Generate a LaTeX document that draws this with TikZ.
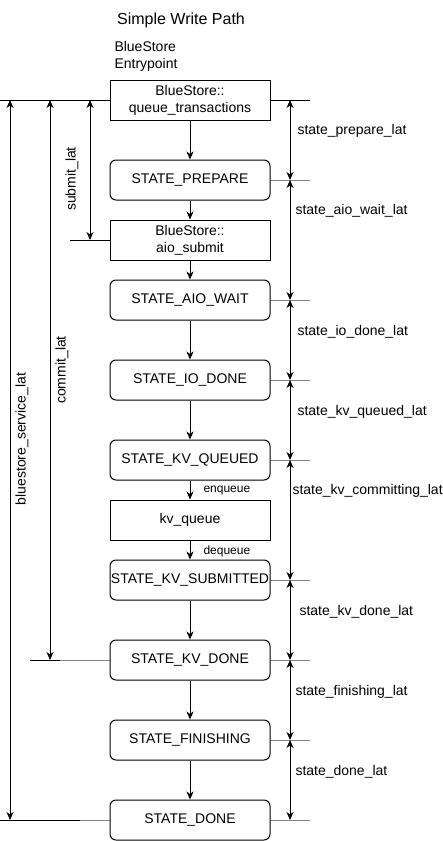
\documentclass[tikz,border=0pt]{standalone}
\usepackage{fontspec}
\setmainfont{Liberation Sans}
\usetikzlibrary{arrows.meta}
\def\boxw{160pt}
\def\boxh{40pt}
\def\rx{290}
\def\rend{310}

\begin{document}
\begin{tikzpicture}[
    x=1pt,y=-1pt,line width=1pt,
    font=\fontsize{14}{17}\selectfont,
    >={Stealth[length=8pt,width=7pt,inset=2.5pt]},
    plainbox/.style={draw,minimum width=\boxw,minimum height=\boxh,inner sep=0pt,align=center},
    statebox/.style={plainbox,rounded corners=6pt},
    faint/.style={black!50},
    lbl/.style={anchor=west,inner sep=0pt},
    small/.style={lbl,font=\fontsize{12}{14}\selectfont}
  ]
  \useasboundingbox (0,0) rectangle (443,841);

  \node[font=\fontsize{16}{19}\selectfont] (title) at (181,20) {Simple Write Path};
  \node[lbl,align=left] (entry) at (114,56) {BlueStore\\Entrypoint};

  \node[plainbox] (qt) at (190,100) {BlueStore::\\queue\_transactions};
  \node[statebox] (prep) at (190,180) {STATE\_PREPARE};
  \node[plainbox] (sub) at (190,240) {BlueStore::\\aio\_submit};
  \node[statebox] (aio) at (190,300) {STATE\_AIO\_WAIT};
  \node[statebox] (io) at (190,380) {STATE\_IO\_DONE};
  \node[statebox] (kvq) at (190,460) {STATE\_KV\_QUEUED};
  \node[plainbox] (queue) at (190,520) {kv\_queue};
  \node[statebox] (kvs) at (190,580) {STATE\_KV\_SUBMITTED};
  \node[statebox] (kvd) at (190,660) {STATE\_KV\_DONE};
  \node[statebox] (fin) at (190,740) {STATE\_FINISHING};
  \node[statebox] (done) at (190,820) {STATE\_DONE};

  \foreach \a/\b in {qt/prep,prep/sub,sub/aio,aio/io,io/kvq,kvq/queue,queue/kvs,kvs/kvd,kvd/fin,fin/done}
    \draw[->] (\a) -- (\b);
  \node[small] (enq) at (203,491) {enqueue};
  \node[small] (deq) at (203,551) {dequeue};

  % right side
  \coordinate (rx) at (\rx,0);
  \coordinate (rend) at (\rend,0);
  \draw (qt.east) -- (qt.east -| rend);
  \foreach \n in {prep,aio,io,kvq,kvs,kvd,fin,done}
    \draw[faint] (\n.east) -- (\n.east -| rend);
  \foreach \a/\b in {qt/prep,prep/aio,aio/io,io/kvq,kvq/kvs,kvs/kvd,kvd/fin,fin/done}
    \draw[<->] (\a.east -| rx) -- (\b.east -| rx);
  \foreach \n/\x/\y/\t in {prep/297/131/state\_prepare\_lat,aio/295/211/state\_aio\_wait\_lat,
      io/297/332/state\_io\_done\_lat,kvq/297/412/state\_kv\_queued\_lat,
      kvs/292/491/state\_kv\_committing\_lat,kvd/299/612/state\_kv\_done\_lat,
      fin/295/692/state\_finishing\_lat,done/295/772/state\_done\_lat}
    \node[lbl] (lab\n) at (\x,\y) {\t};

  % left side
  \coordinate (svc) at (10,0);
  \coordinate (cmt) at (50,0);
  \coordinate (smt) at (90,0);
  \coordinate (lend) at (0,0);
  \coordinate (cend) at (30,0);
  \coordinate (send) at (70,0);
  \draw (qt.west) -- (qt.west -| lend);
  \draw (sub.west) -- (sub.west -| send);
  \draw[faint] (kvd.west) -- (kvd.west -| 60,0);
  \draw (kvd.west -| 60,0) -- (kvd.west -| cend);
  \draw[faint] (done.west) -- (done.west -| 80,0);
  \draw (done.west -| 80,0) -- (done.west -| lend);
  \draw[<->] (qt.west -| svc) -- (done.west -| svc);
  \draw[<->] (qt.west -| cmt) -- (kvd.west -| cmt);
  \draw[<->] (qt.west -| smt) -- (sub.west -| smt);
  \node[rotate=90] (svclab) at (22,439) {bluestore\_service\_lat};
  \node[rotate=90] (cmtlab) at (62,370) {commit\_lat};
  \node[rotate=90] (smtlab) at (72,179) {submit\_lat};

\end{tikzpicture}
\end{document}
